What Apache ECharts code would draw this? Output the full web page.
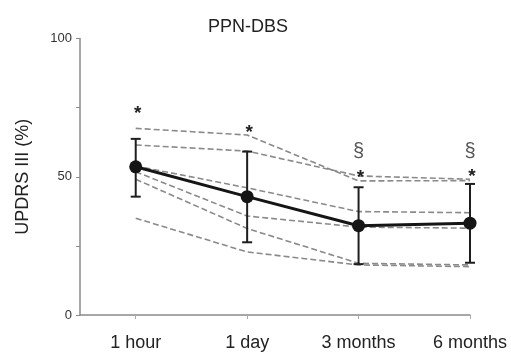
<!DOCTYPE html>
<html>
<head>
<meta charset="utf-8">
<script src="https://cdn.jsdelivr.net/npm/echarts@6/dist/echarts.min.js"></script>
<style>html,body{margin:0;padding:0;background:#fff}#c{width:511px;height:352px}</style>
</head>
<body>
<div id="c"></div>
<script>
// ---- data ----
const categories = ['1 hour', '1 day', '3 months', '6 months'];
const meanValues = [53.6, 42.8, 32.3, 33.2];
const errLow  = [42.8, 26.3, 18.4, 18.9];
const errHigh = [63.7, 59.1, 46.2, 47.4];
const patient1 = [67.5, 65.1, 48.5, 48.6];
const patient2 = [61.5, 59.3, 50.3, 49.1];
const patient3 = [53.9, 46.0, 37.4, 37.0];
const patient4 = [51.8, 35.8, 31.8, 31.4];
const patient5 = [49.1, 31.3, 18.7, 18.1];
const patient6 = [35.0, 22.8, 18.1, 17.5];
const yTickLabels = [0, 50, 100];
const starMarks = [74.4, 67.5, 51.2, 51.4];     // y position of "*" at each time point
const sectionMarks = [null, null, 59.1, 59.1];  // y position of "§"

const FONT = '"Liberation Sans", Arial, Helvetica, sans-serif';
const patients = [patient1, patient2, patient3, patient4, patient5, patient6];
const toXY = arr => arr.map((v, i) => [i + 1, v]);

const dashedSeries = patients.map((p, k) => ({
  type: 'line', name: 'patient' + (k + 1), data: toXY(p), symbol: 'none',
  lineStyle: { color: '#8a8a8a', width: 1.6, type: [6, 3] }, z: 2, silent: true
}));

function textMarks(name, values, glyph, size, weight, color, dx, dy) {
  return {
    type: 'custom', name, z: 6, silent: true,
    data: values.map((v, i) => v == null ? null : [i + 1, v]).filter(d => d),
    renderItem: (params, api) => {
      const p = api.coord([api.value(0), api.value(1)]);
      return {
        type: 'text', x: p[0] + dx, y: p[1] + dy,
        style: { text: glyph, fontFamily: FONT, fontSize: size, fontWeight: weight, fill: color, align: 'center', verticalAlign: 'middle' }
      };
    }
  };
}

const chart = echarts.init(document.getElementById('c'), null, { renderer: 'canvas' });
chart.setOption({
  animation: false,
  backgroundColor: '#fff',
  title: {
    text: 'PPN-DBS', left: 203, top: 13,
    textStyle: { fontFamily: FONT, fontSize: 18, fontWeight: 'normal', color: '#222' }
  },
  grid: { left: 80, right: 41, top: 38.5, bottom: 37, containLabel: false, outerBoundsMode: 'none' },
  xAxis: {
    type: 'value', min: 0.5, max: 4,
    splitLine: { show: false },
    axisLine: { show: true, lineStyle: { color: '#8a8a8a', width: 1.5 } },
    axisTick: { show: true, customValues: [1, 2, 3, 4], length: 4, lineStyle: { color: '#aaa' } },
    axisLabel: {
      customValues: [1, 2, 3, 4],
      formatter: v => categories[Math.round(v) - 1] || '',
      fontFamily: FONT, fontSize: 18, color: '#222', margin: 19
    }
  },
  yAxis: {
    type: 'value', min: 0, max: 100, interval: 25,
    name: 'UPDRS III (%)', nameLocation: 'middle', nameGap: 48, nameRotate: 90,
    nameTextStyle: { fontFamily: FONT, fontSize: 18, color: '#222' },
    splitLine: { show: false },
    axisLine: { show: true, lineStyle: { color: '#8a8a8a', width: 1.5 } },
    axisTick: { show: true, inside: false, length: 4, lineStyle: { color: '#8a8a8a' } },
    axisLabel: {
      customValues: yTickLabels,
      fontFamily: FONT, fontSize: 13, color: '#333', margin: 8
    }
  },
  series: [
    ...dashedSeries,
    {
      type: 'custom', name: 'sd', z: 4,
      data: categories.map((c, i) => [i + 1, errLow[i], errHigh[i]]),
      renderItem: (params, api) => {
        const x = api.value(0);
        const lo = api.coord([x, api.value(1)]);
        const hi = api.coord([x, api.value(2)]);
        const st = { stroke: '#1e1e1e', lineWidth: 2 };
        const cap = 5;
        return {
          type: 'group', children: [
            { type: 'line', shape: { x1: lo[0], y1: lo[1], x2: hi[0], y2: hi[1] }, style: st },
            { type: 'line', shape: { x1: lo[0] - cap, y1: lo[1], x2: lo[0] + cap, y2: lo[1] }, style: st },
            { type: 'line', shape: { x1: hi[0] - cap, y1: hi[1], x2: hi[0] + cap, y2: hi[1] }, style: st }
          ]
        };
      }
    },
    {
      type: 'line', name: 'mean', data: toXY(meanValues), z: 5,
      symbol: 'circle', symbolSize: 13,
      itemStyle: { color: '#151515' },
      lineStyle: { color: '#151515', width: 3 }
    },
    textMarks('stars', starMarks, '*', 19, 'bold', '#222', 2, 4),
    textMarks('sections', sectionMarks, '§', 20, 'normal', '#555', 0, 0)
  ]
});
</script>
</body>
</html>
